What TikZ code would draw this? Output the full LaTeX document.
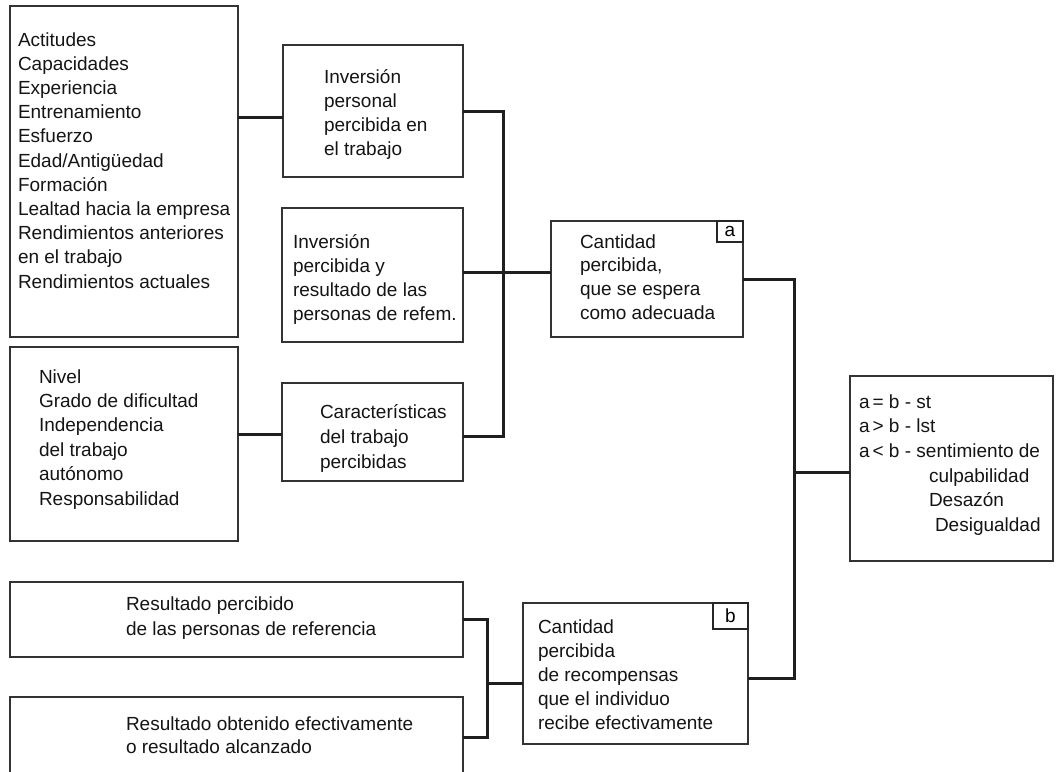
\documentclass[tikz,border=0pt]{standalone}
\usepackage{fontspec}
\setmainfont{Liberation Sans}
\newcommand\mylines[2]{{\fontsize{19}{#1}\selectfont\begin{tabular}[t]{@{}l@{}}#2\end{tabular}}}
\newcommand\eqcol[1]{\makebox[30pt][l]{#1}}
\begin{document}
\begin{tikzpicture}[x=1pt,y=-1pt,
  box/.style={draw=black!80, line width=1.3pt, inner sep=0pt, outer sep=0pt, anchor=north west},
  lblbox/.style={draw=black!85, line width=1.7pt, inner sep=0pt, outer sep=0pt, anchor=north west, font=\fontsize{19}{22}\selectfont},
  txt/.style={inner sep=0pt, outer sep=0pt, anchor=base west, text=black!92},
  conn/.style={draw=black!88, line width=3pt}]
\useasboundingbox (0,0) rectangle (1057,771);
\clip (0,0) rectangle (1057,771);
% boxes
\node[box, minimum width=228pt, minimum height=331pt] (A) at (10,6) {};
\node[box, minimum width=180pt, minimum height=132pt] (B) at (283,45) {};
\node[box, minimum width=181pt, minimum height=134pt] (C) at (282,208) {};
\node[box, minimum width=228pt, minimum height=194pt] (D) at (10,347) {};
\node[box, minimum width=181pt, minimum height=98pt] (E) at (282,383) {};
\node[box, minimum width=192pt, minimum height=116pt] (Ca) at (551,221) {};
\node[box, minimum width=203pt, minimum height=185pt] (Res) at (850,376) {};
\node[box, minimum width=453pt, minimum height=75pt] (F) at (10,582) {};
\node[box, minimum width=453pt, minimum height=80pt] (G) at (10,697) {};
\node[box, minimum width=225pt, minimum height=141pt] (Cb) at (523,603) {};
\node[lblbox, minimum width=26pt, minimum height=21pt] (la) at (717,221) {a};
\node[lblbox, minimum width=35pt, minimum height=26pt] (lb) at (713,603) {b};
% texts
\node[txt] (tA) at (18,46) {\mylines{24.2}{Actitudes\\Capacidades\\Experiencia\\Entrenamiento\\Esfuerzo\\Edad/Antigüedad\\Formación\\Lealtad hacia la empresa\\Rendimientos anteriores\\en el trabajo\\Rendimientos actuales}};
\node[txt] (tB) at (324,83) {\mylines{24}{Inversión\\personal\\percibida en\\el trabajo}};
\node[txt] (tC) at (293,248) {\mylines{24}{Inversión\\percibida y\\resultado de las\\personas de refem.}};
\node[txt] (tD) at (39,383) {\mylines{24.4}{Nivel\\Grado de dificultad\\Independencia\\del trabajo\\autónomo\\Responsabilidad}};
\node[txt] (tE) at (320,418) {\mylines{25}{Características\\del trabajo\\percibidas}};
\node[txt] (tCa) at (580,248) {\mylines{23.7}{Cantidad\\percibida,\\que se espera\\como adecuada}};
\node[txt] (tRes) at (859,408) {\mylines{24.7}{\eqcol{a\hspace{3pt}=}b - st\\\eqcol{a\hspace{3pt}>}b - lst\\\eqcol{a\hspace{3pt}<}b - sentimiento de\\\hspace*{70pt}culpabilidad\\\hspace*{70pt}Desazón\\\hspace*{76pt}Desigualdad}};
\node[txt] (tF) at (126,610) {\mylines{25}{Resultado percibido\\de las personas de referencia}};
\node[txt] (tG) at (126,730) {\mylines{23}{Resultado obtenido efectivamente\\o resultado alcanzado}};
\node[txt] (tCb) at (538,633) {\mylines{24}{Cantidad\\percibida\\de recompensas\\que el individuo\\recibe efectivamente}};
% connectors
\coordinate (j1) at (503,272);
\coordinate (j2) at (794,472);
\coordinate (j3) at (487,683);
\draw[conn] ([yshift=-6pt]B.west) -- ([yshift=-6pt]B.west -| A.east);
\draw[conn] (B.east) -| (j1) |- ([yshift=-4pt]E.east);
\draw[conn] (C.east |- j1) -- (Ca.west |- j1);
\draw[conn] ([yshift=-2pt]E.west) -- ([yshift=-2pt]E.west -| D.east);
\draw[conn] (Ca.east) -| (j2) |- ([yshift=-5pt]Cb.east);
\draw[conn] (j2) -- (Res.west |- j2);
\draw[conn] (F.east) -| (j3) |- (G.east);
\draw[conn] (j3) -- (Cb.west |- j3);
\end{tikzpicture}
\end{document}
